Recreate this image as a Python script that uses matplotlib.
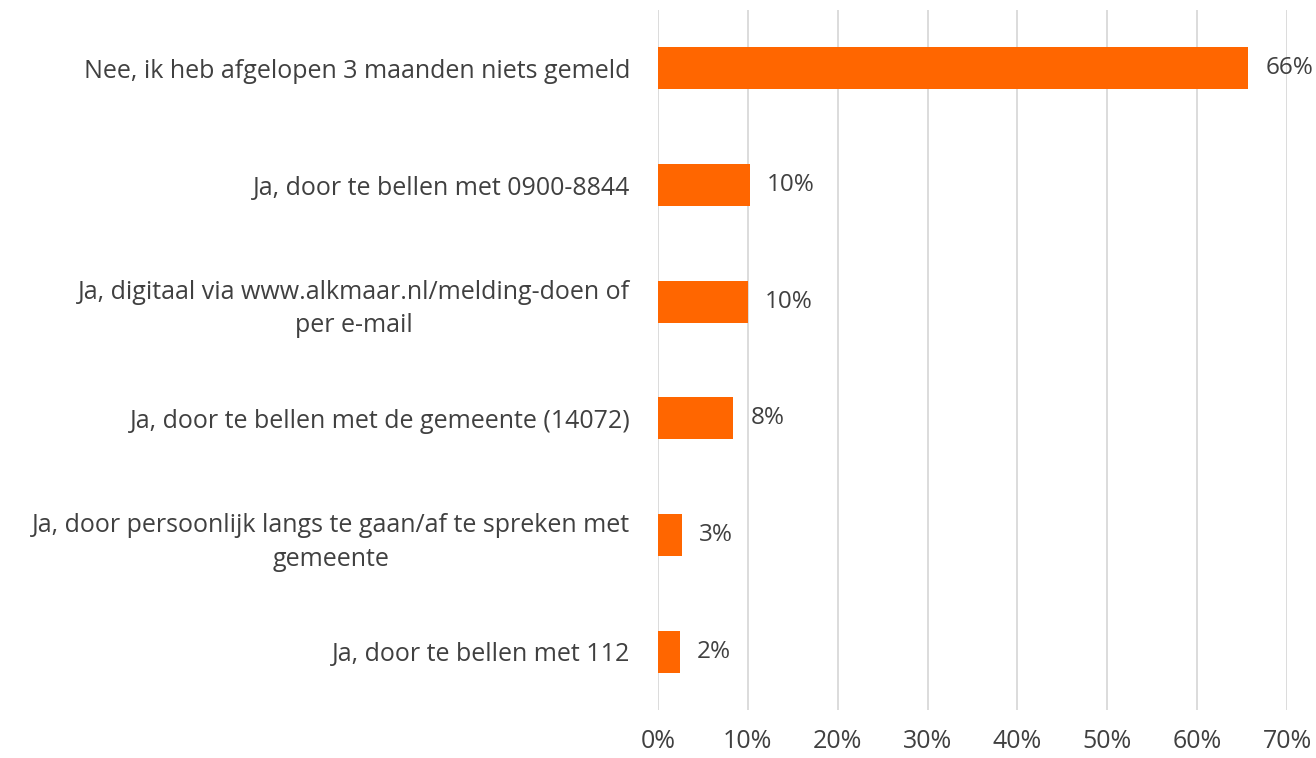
import matplotlib.pyplot as plt

categories = [
    "Nee, ik heb afgelopen 3 maanden niets gemeld",
    "Ja, door te bellen met 0900-8844",
    "Ja, digitaal via www.alkmaar.nl/melding-doen of\nper e-mail",
    "Ja, door te bellen met de gemeente (14072)",
    "Ja, door persoonlijk langs te gaan/af te spreken met\ngemeente",
    "Ja, door te bellen met 112",
]
values = [65.7, 10.2, 10.0, 8.4, 2.7, 2.4]
tick_values = [0, 10, 20, 30, 40, 50, 60, 70]

plt.rcParams['font.family'] = ['Open Sans', 'DejaVu Sans']

fig = plt.figure(figsize=(13.16, 7.58), dpi=100)
ax = fig.add_axes([658 / 1316, 48 / 758, 629 / 1316, 700 / 758])

y = list(range(len(categories)))
ax.barh(y, values, height=0.36, color='#FF6600', zorder=3)

for yi, v in zip(y, values):
    ax.text(v + 1.9, yi, f"{round(v)}%", va='center', ha='left',
            fontsize=17.5, color='#404040', zorder=4)

ax.set_xlim(0, 70)
ax.set_ylim(len(categories) - 0.5, -0.5)
ax.set_xticks(tick_values)
ax.set_xticklabels([f"{t}%" for t in tick_values], fontsize=18)
ax.set_yticks(y)
ax.set_yticklabels(categories, ha='right', multialignment='center',
                   fontsize=18, linespacing=1.45)
ax.tick_params(axis='both', length=0, labelcolor='#404040')
ax.tick_params(axis='y', pad=20)
ax.tick_params(axis='x', pad=14)

ax.grid(axis='x', color='#D9D9D9', linewidth=1.3, zorder=0)
for s in ax.spines.values():
    s.set_visible(False)

fig.savefig('out.png', dpi=100)
